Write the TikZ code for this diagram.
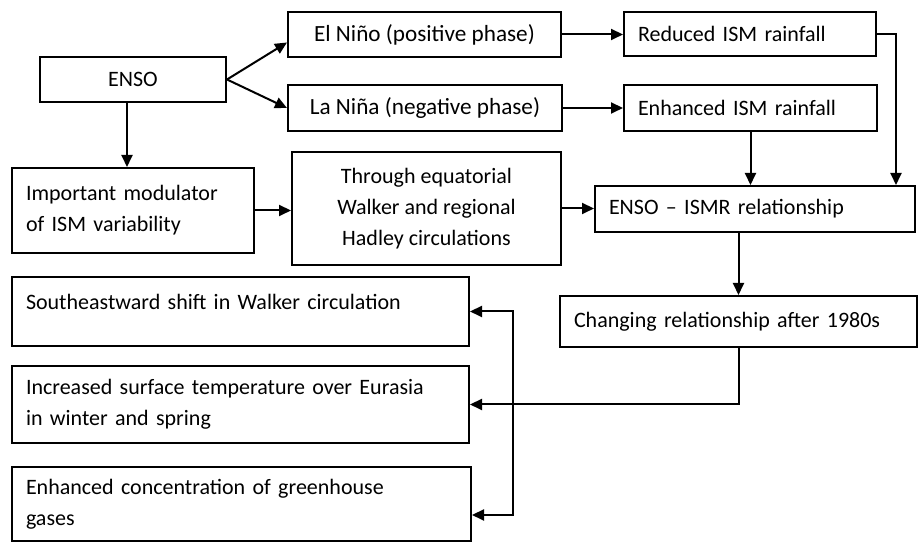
\documentclass[tikz,border=0pt]{standalone}
\usepackage{fontspec}
\setmainfont{Carlito}
\usetikzlibrary{arrows.meta}
\begin{document}
\begin{tikzpicture}[x=.5pt,y=-.5pt,line width=1pt,>={Triangle[length=6pt,width=5.5pt]},
  font=\fontsize{11}{15.5}\selectfont,
  blk/.style={draw,inner xsep=7pt,inner ysep=0pt,align=center},
  lblk/.style={blk,align=left,text width=#1},
  big/.style={font=\fontsize{11.6}{15.5}\selectfont}]
\useasboundingbox (0,0) rectangle (918,544);
% top row
\node[blk,minimum width=93pt,minimum height=22.5pt] (enso) at (133,79.5) {ENSO};
\node[blk,big,minimum width=136.5pt,minimum height=22.5pt] (nino) at (424.5,34.5) {El Niño (positive phase)};
\node[blk,big,minimum width=137pt,minimum height=23pt] (nina) at (425,108) {La Niña (negative phase)};
\node[lblk=112pt,minimum height=22pt] (dry) at (750,34) {Reduced ISM rainfall};
\node[lblk=112.5pt,minimum height=23pt] (wet) at (750.5,108) {Enhanced ISM rainfall};
% middle row
\node[lblk=107pt,minimum height=42.5pt] (modul) at (133,210.5) {Important modulator\\of ISM variability};
\node[blk,minimum width=134.5pt,minimum height=56.5pt] (circ) at (426.5,208.5) {Through equatorial\\Walker and regional\\Hadley circulations};
\node[lblk=146pt,minimum height=23pt] (rel) at (755,209) {ENSO – ISMR relationship};
\node[lblk=164.5pt,minimum height=25.5pt] (chg) at (738.5,321.5) {Changing relationship after 1980s};
% causes
\node[lblk=214.5pt,minimum height=34.5pt] (walk) at (240.5,311.5) {Southeastward shift in Walker circulation\\[-6pt]\mbox{}};
\node[lblk=214.5pt,minimum height=38.5pt] (eura) at (240.5,404.5) {Increased surface temperature over Eurasia\\in winter and spring};
\node[lblk=215.5pt,minimum height=37pt] (ghg) at (241.5,504) {Enhanced concentration of greenhouse\\gases};
% arrows
\draw[->] (enso.east) -- ([yshift=-4pt]nino.west);
\draw[->] (enso.east) -- (nina.west);
\draw[->] ([xshift=-3pt]enso.south) -- ([xshift=-3pt]modul.north);
\foreach \a/\b in {nino/dry,nina/wet,modul/circ,circ/rel}
  \draw[->] (\a.east) -- (\a.east -| \b.west);
\draw[->] (dry.east) -| ([xshift=-10pt]rel.north east);
\draw[->] (wet.south) -- (wet.south |- rel.north);
\draw[->] (chg.north |- rel.south) -- (chg.north);
\draw[->] (chg.south) |- (eura.east);
\draw[<->] (walk.east) -- ++(43,0) |- ([yshift=-5.5pt]ghg.east);
\end{tikzpicture}
\end{document}
